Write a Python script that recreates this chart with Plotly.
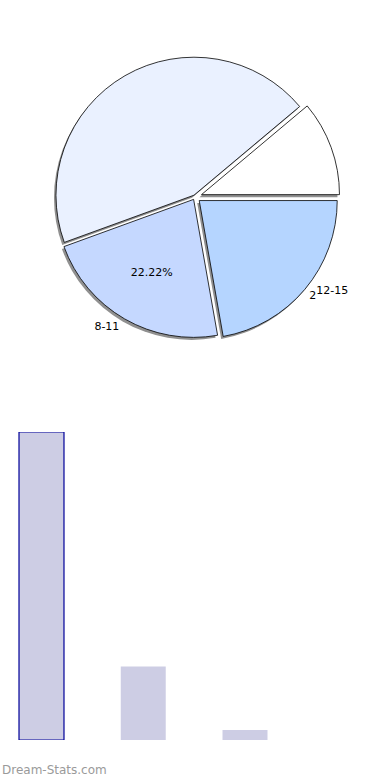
import plotly.graph_objects as go

# ---- data ----
pie_labels = ["12-15", "8-11", "0-7", "16-19"]
pie_values = [2, 2, 4, 1]
pie_colors = ["#B5D5FF", "#C5D8FF", "#EAF1FF", "#FFFFFF"]
pie_pull = [0.04, 0.02, 0.015, 0.05]

bar_categories = [0, 1, 2]
bar_values = [31, 7.4, 1.0]

W, H = 390, 780
R = 138
cx, cy = 195, 197  # pixel centre of pie (from top)
half = R * (1 + max(pie_pull))

def dom(cxp, cyp):
    return dict(x=[(cxp - half) / W, (cxp + half) / W],
                y=[(H - cyp - half) / H, (H - cyp + half) / H])

fig = go.Figure()

# shadow pie
fig.add_trace(go.Pie(
    labels=pie_labels, values=pie_values, sort=False, direction="clockwise",
    rotation=90, pull=pie_pull, domain=dom(cx - 2, cy + 2.5),
    marker=dict(colors=["#909090"] * 4, line=dict(width=0)),
    texttemplate=["", "%{label}", "", ""],
    textposition=["none", "outside", "none", "none"],
    textfont=dict(family="DejaVu Sans", size=11, color="#000000"),
    showlegend=False, hoverinfo="skip",
))

# main pie
fig.add_trace(go.Pie(
    labels=pie_labels, values=pie_values, sort=False, direction="clockwise",
    rotation=90, pull=pie_pull, domain=dom(cx, cy),
    marker=dict(colors=pie_colors, line=dict(color="#000000", width=0.8)),
    texttemplate=["2<sup><span style='font-size:11px'>%{label}</span></sup>",
                  "%{percent:.2%}", "", ""],
    textposition=["outside", "inside", "none", "none"],
    insidetextorientation="horizontal",
    textfont=dict(family="DejaVu Sans", size=11, color="#000000"),
    showlegend=False,
))

# bars
fig.add_trace(go.Bar(
    x=bar_categories, y=bar_values, width=0.442,
    marker=dict(color="#CDCDE4",
                line=dict(color=["#000099", "rgba(0,0,0,0)", "rgba(0,0,0,0)"],
                          width=[1.2, 0, 0])),
    showlegend=False, xaxis="x", yaxis="y",
))

fig.update_layout(
    width=W, height=H,
    margin=dict(l=0, r=0, t=0, b=0),
    paper_bgcolor="#FFFFFF", plot_bgcolor="#FFFFFF",
    xaxis=dict(range=[-41.5 / 101.75, (W - 41.5) / 101.75], domain=[0, 1],
               visible=False, showgrid=False, zeroline=False),
    yaxis=dict(range=[0, 31], domain=[40 / H, 348 / H],
               visible=False, showgrid=False, zeroline=False),
    annotations=[dict(text="Dream-Stats.com", x=0, y=10 / H, xref="paper", yref="paper",
                      xanchor="left", yanchor="middle", showarrow=False,
                      font=dict(family="DejaVu Sans", size=12, color="#9a9a9a"))],
)

fig.write_html("out.html")
